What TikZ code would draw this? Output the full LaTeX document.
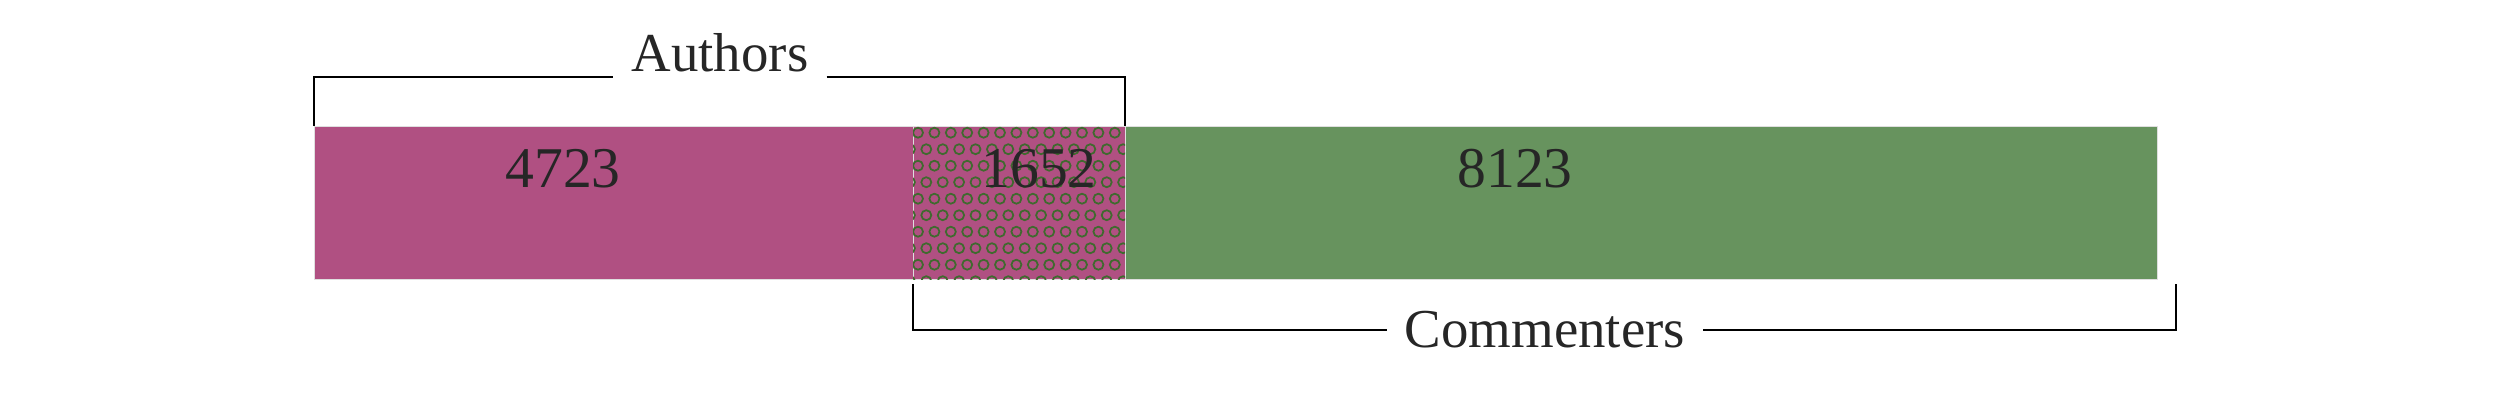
\documentclass[tikz,border=0pt]{standalone}
\usepackage{fontspec}
\setmainfont{Liberation Serif}
\usepackage{tikz}
\usetikzlibrary{calc, positioning}

\definecolor{authorpink}{HTML}{B05082}
\definecolor{commentgreen}{HTML}{67935E}
\definecolor{ringgreen}{HTML}{3F6A2E}
\definecolor{textgray}{HTML}{262626}

\begin{document}
\begin{tikzpicture}[
    segment/.style={rectangle, inner sep=0pt, outer sep=0pt, minimum height=1.53cm, draw=white!75!gray, line width=0.25pt}, % bar pieces
    count/.style={font=\fontsize{16.4}{19}\selectfont, text=textgray}, % numbers inside the bar
    group label/.style={font=\fontsize{15.6}{18}\selectfont, text=textgray, inner sep=5pt}, % bracket labels
    bracket/.style={-, line width=0.6pt, black}, % bracket lines
    ring/.style={draw=ringgreen, line width=0.5pt} % circles of the overlap pattern
  ]
  \useasboundingbox (0,0) rectangle (25,4);

  % --- Bar ---
  \node[segment, fill=authorpink, minimum width=5.99cm, anchor=north west] (only authors) at (3.14,2.74) {};
  \node[segment, fill=authorpink, minimum width=2.12cm, right=0pt of only authors] (both) {};
  \node[segment, fill=commentgreen, minimum width=10.32cm, right=0pt of both] (only commenters) {};

  % Circle pattern on the overlap
  \begin{scope}
    \clip (both.south west) rectangle (both.north east);
    \foreach \row in {0,...,9} {
      \pgfmathsetmacro{\rowshift}{mod(\row,2)*0.083}
      \foreach \col in {-1,...,13} {
        \draw[ring] ($(both.north west)+({0.05+\col*0.164+\rowshift},{-0.067-\row*0.165})$) circle (0.05);
      }
    }
  \end{scope}

  % --- Counts ---
  \node[count] (n authors) at (5.63,2.31) {4723};
  \node[count] (n both) at (10.39,2.31) {1652};
  \node[count] (n commenters) at (15.15,2.31) {8123};

  % --- Authors bracket (above) ---
  \node[group label] (authors) at (7.20,3.47) {Authors};
  \draw[bracket] (only authors.north west) -- ++(0,0.49) coordinate (a left) -- (a left -| authors.west);
  \draw[bracket] (authors.east |- a left) -- (a left -| both.north east) -- (both.north east);

  % --- Commenters bracket (below) ---
  \coordinate (c left) at ($(both.south west)+(0,-0.05)$);
  \coordinate (c right) at (21.76,1.16);
  \node[group label] (commenters) at (15.45,0.70) {Commenters};
  \draw[bracket] (c left) |- (commenters.west);
  \draw[bracket] (commenters.east) -| (c right);

\end{tikzpicture}
\end{document}
